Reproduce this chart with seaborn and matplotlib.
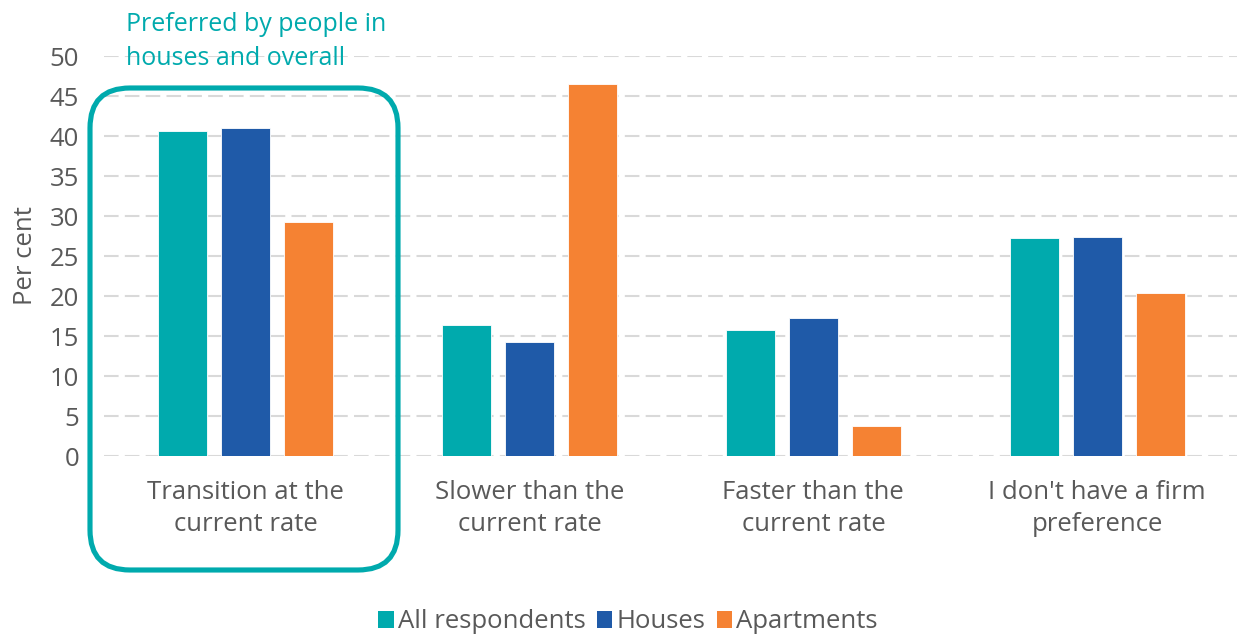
import numpy as np
import pandas as pd
import matplotlib
matplotlib.use("Agg")
import matplotlib.pyplot as plt
import matplotlib.transforms as mtransforms
from matplotlib.patches import FancyBboxPatch, Patch
import seaborn as sns

categories = ["Transition at the\ncurrent rate", "Slower than the\ncurrent rate",
              "Faster than the\ncurrent rate", "I don't have a firm\npreference"]
series_names = ["All respondents", "Houses", "Apartments"]
all_respondents = [40.6, 16.4, 15.75, 27.3]
houses = [41.0, 14.3, 17.3, 27.35]
apartments = [29.3, 46.5, 3.8, 20.4]
colors = ["#00AAAD", "#1F5AA8", "#F58233"]
y_ticks = [0, 5, 10, 15, 20, 25, 30, 35, 40, 45, 50]

df = pd.DataFrame({
    "category": categories * 3,
    "series": [s for s in series_names for _ in categories],
    "value": all_respondents + houses + apartments,
})

sns.set_theme(style="white")
plt.rcParams["font.family"] = ["Open Sans", "DejaVu Sans"]
TXT = "#595959"
FS = 18.5

W, H = 1237, 634
fig = plt.figure(figsize=(W / 100, H / 100), dpi=100)
ax = fig.add_axes([104 / W, (H - 456) / H, 1135 / W, 400 / H])

sns.barplot(data=df, x="category", y="value", hue="series", order=categories,
            hue_order=series_names, palette=colors, saturation=1, width=0.666, gap=0.22,
            edgecolor="white", linewidth=0.6, legend=False, ax=ax, zorder=3)

ax.set_xlim(-0.5, 3.5)
ax.set_ylim(0, 50)
ax.set_yticks(y_ticks)
ax.set_yticklabels([str(t) for t in y_ticks])
ax.yaxis.grid(True, color="#d9d9d9", linestyle=(0, (7, 3)), linewidth=1.5, zorder=0)
ax.set_axisbelow(True)
ax.xaxis.grid(False)
for s in ax.spines.values():
    s.set_visible(False)
ax.tick_params(axis="y", length=0, pad=18, labelsize=FS, labelcolor=TXT)
ax.tick_params(axis="x", length=0, pad=17, labelsize=FS, labelcolor=TXT)
for lbl in ax.get_xticklabels():
    lbl.set_linespacing(1.4)
ax.set_xlabel("")
ax.set_ylabel("Per cent", fontsize=FS, color=TXT, labelpad=8)

handles = [Patch(facecolor=c, edgecolor="none") for c in colors]
fig.legend(handles, series_names, loc="center", bbox_to_anchor=(628 / W, (H - 622) / H),
           ncol=3, frameon=False, fontsize=FS, labelcolor=TXT, handlelength=0.6,
           handleheight=0.6, handletextpad=0.15, columnspacing=0.45)

box = FancyBboxPatch((90, H - 570), 308, 482, boxstyle="round,pad=0,rounding_size=40",
                     transform=mtransforms.IdentityTransform(), facecolor="none",
                     edgecolor="#00AAAD", linewidth=3.7, clip_on=False)
fig.add_artist(box)
fig.text(126 / W, (H - 12) / H, "Preferred by people in\nhouses and overall",
         color="#00AAAD", fontsize=18, va="top", ha="left", linespacing=1.45)

fig.savefig("out.png", dpi=100)
